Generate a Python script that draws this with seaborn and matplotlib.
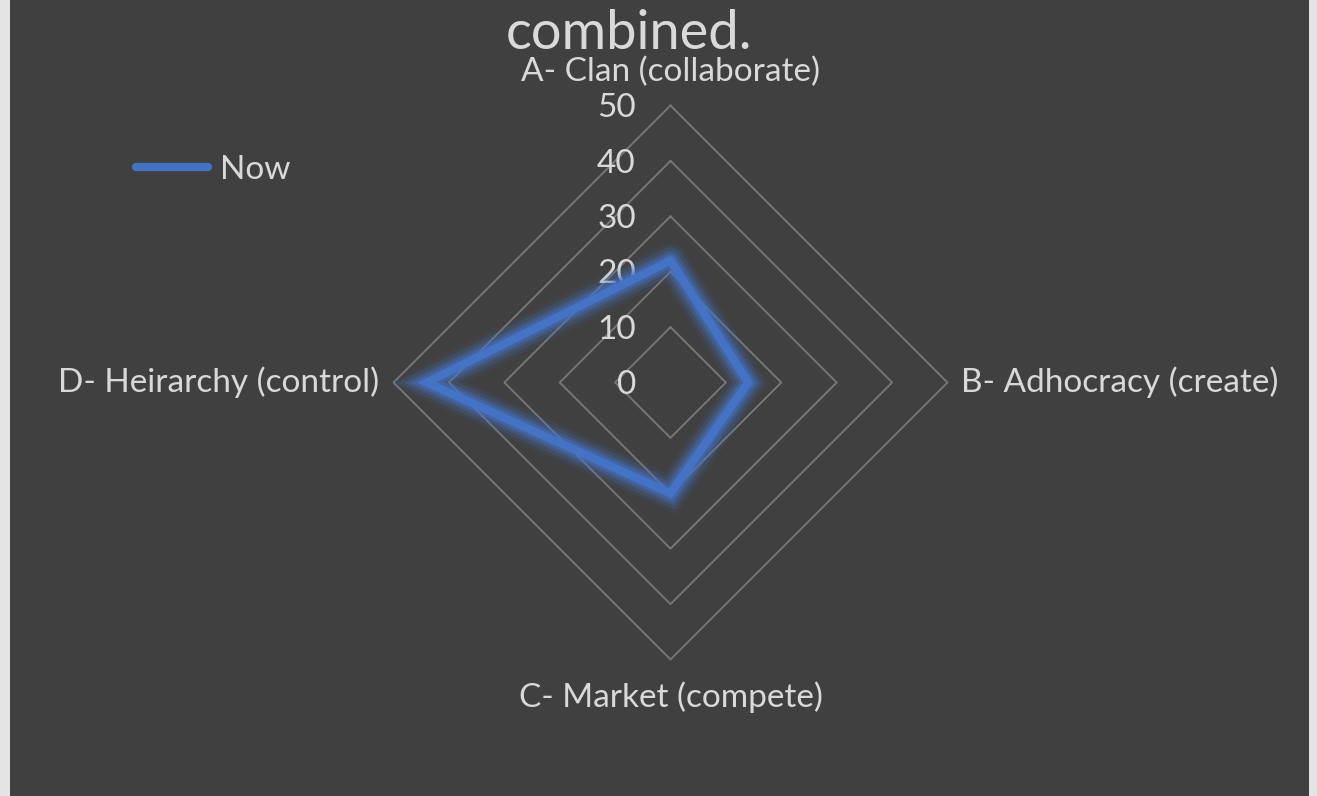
import numpy as np
import pandas as pd
import matplotlib
matplotlib.use("Agg")
import matplotlib.pyplot as plt
import matplotlib.patheffects as pe
from matplotlib.patches import Rectangle
import seaborn as sns

# ---- data ----
categories = ["A- Clan (collaborate)", "B- Adhocracy (create)",
              "C- Market (compete)", "D- Heirarchy (control)"]
now_values = [22, 14, 20, 44]
r_ticks = [0, 10, 20, 30, 40, 50]
r_tick_labels = ["0", "10", "20", "30", "40", "50"]
series_name = "Now"
title_text = "combined."

# ---- style ----
sns.set_theme(style="dark")
plt.rcParams["font.family"] = ["Lato", "DejaVu Sans"]
BG = "#404040"
TXT = "#d9d9d9"
GRID = "#767676"
BLUE = "#4472C4"

W, H = 1317, 796
fig = plt.figure(figsize=(W / 100, H / 100), dpi=100, facecolor="#e4e4e4")
fig.patches.append(Rectangle((10 / W, 0), 1299 / W, 1, transform=fig.transFigure,
                             facecolor=BG, edgecolor="none", zorder=-10))

cx, cy, R = 670.5, 382.5, 277
ax = fig.add_axes([(cx - R) / W, (H - cy - R) / H, 2 * R / W, 2 * R / H],
                  projection="polar")
ax.set_facecolor("none")
ax.set_theta_offset(np.pi / 2)
ax.set_theta_direction(-1)
ax.grid(False)
ax.spines["polar"].set_visible(False)

n = len(categories)
angles = np.linspace(0, 2 * np.pi, n, endpoint=False)
closed_angles = np.append(angles, 2 * np.pi)

# polygon grid rings
for r in r_ticks[1:]:
    ax.plot(closed_angles, [r] * (n + 1), color=GRID, lw=1.4, clip_on=False, zorder=1)

# series
df = pd.DataFrame({"theta": closed_angles,
                   "value": now_values + [now_values[0]]})
glow = [pe.Stroke(linewidth=24, foreground=BLUE, alpha=0.10),
        pe.Stroke(linewidth=19, foreground=BLUE, alpha=0.18),
        pe.Stroke(linewidth=14, foreground=BLUE, alpha=0.30),
        pe.Stroke(linewidth=10, foreground=BLUE, alpha=0.45),
        pe.Normal()]
sns.lineplot(data=df, x="theta", y="value", sort=False, estimator=None, ax=ax,
             color=BLUE, lw=6, path_effects=glow, zorder=4,
             solid_joinstyle="miter", legend=False)
ax.set_xlabel("")
ax.set_ylabel("")
ax.set_ylim(0, max(r_ticks))
ax.set_xticks([])
ax.set_yticks([])

# radial labels
for r, lab in zip(r_ticks, r_tick_labels):
    ax.annotate(lab, xy=(0, r), xytext=(-25, -2), textcoords="offset points",
                ha="right", va="center", color=TXT, fontsize=24, zorder=3,
                annotation_clip=False)

# category labels
rmax = max(r_ticks)
offsets = [((0, 24), "center", "center"),
           ((10, 0), "left", "center"),
           ((0, -27), "center", "center"),
           ((-10, 0), "right", "center")]
for ang, lab, (off, ha, va) in zip(angles, categories, offsets):
    ax.annotate(lab, xy=(ang, rmax), xytext=off, textcoords="offset points",
                ha=ha, va=va, color=TXT, fontsize=24, annotation_clip=False)

# legend
handle = plt.Line2D([], [], color=BLUE, lw=6, solid_capstyle="round")
leg = fig.legend([handle], [series_name], loc="center left",
                 bbox_to_anchor=(136 / W, 1 - 170 / H), frameon=False,
                 borderpad=0, borderaxespad=0, handlelength=2.15,
                 handletextpad=0.36, fontsize=24, labelcolor=TXT)

# title
fig.text(629 / W, 1 - 49 / H, title_text, ha="center", va="baseline",
         color=TXT, fontsize=39)

fig.savefig("out.png", dpi=100, facecolor=fig.get_facecolor())
